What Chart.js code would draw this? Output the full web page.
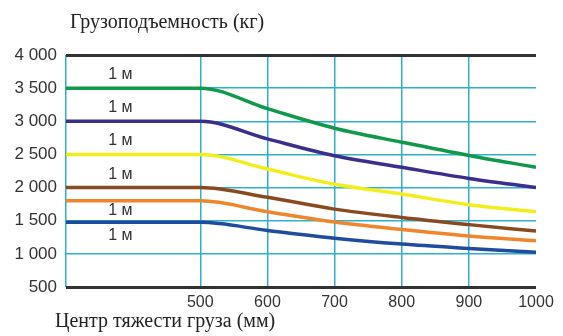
<!DOCTYPE html>
<html>
<head>
<meta charset="utf-8">
<script src="https://cdn.jsdelivr.net/npm/chart.js@4.4.1/dist/chart.umd.min.js"></script>
<style>
    html, body { margin: 0; padding: 0; background: #fff; }
    #wrap { width: 563px; height: 336px; position: relative; }
</style>
</head>
<body>
<div id="wrap"><canvas id="loadChart"></canvas></div>
<script>
// Load centre (mm) and capacity (kg)
const centres = [300, 500, 600, 700, 800, 900, 1000];
const green  = [3500, 3500, 3190, 2895, 2685, 2485, 2306];
const purple = [3000, 3000, 2734, 2480, 2306, 2138, 2000];
const yellow = [2500, 2500, 2280, 2050, 1902, 1742, 1635];
const brown  = [2000, 2000, 1854, 1675, 1548, 1441, 1343];
const orange = [1800, 1800, 1636, 1480, 1368, 1270, 1196];
const blue   = [1475, 1475, 1353, 1235, 1147, 1082, 1024];

const xTicks = [300, 500, 600, 700, 800, 900, 1000];
const yTicks = [500, 1000, 1500, 2000, 2500, 3000, 3500, 4000];

// "1 м" marks: label text and value they sit near
const liftLabels = ['1 м', '1 м', '1 м', '1 м', '1 м', '1 м'];
const liftValues = [3700, 3210, 2710, 2200, 1660, 1280];

const yTitle = 'Грузоподъемность (кг)';
const xTitle = 'Центр тяжести груза (мм)';

function series(values, color) {
    return {
        data: values.map((v, i) => ({ x: centres[i], y: v })),
        borderColor: color,
        borderWidth: 3.5,
        pointRadius: 0,
        fill: false,
        cubicInterpolationMode: 'monotone'
    };
}

// Format "4 000"
function fmt(v) {
    return String(v).replace(/\B(?=(\d{3})+(?!\d))/g, ' ');
}

const textPlugin = {
    id: 'texts',
    afterDraw(chart) {
        const ctx = chart.ctx;
        const xs = chart.scales.x;
        const ys = chart.scales.y;
        ctx.save();
        ctx.fillStyle = '#222';
        ctx.font = '20px "Liberation Serif", serif';
        ctx.textBaseline = 'middle';
        ctx.textAlign = 'left';
        ctx.fillText(yTitle, 70, 23);
        ctx.fillText(xTitle, 55, 322);

        ctx.font = '16px "Liberation Sans", Arial, sans-serif';
        ctx.fillStyle = '#333';
        ctx.textAlign = 'center';
        liftLabels.forEach((t, i) => {
            ctx.fillText(t, xs.getPixelForValue(381), ys.getPixelForValue(liftValues[i]));
        });
        ctx.restore();
    }
};

new Chart(document.getElementById('loadChart'), {
    type: 'line',
    data: {
        datasets: [
            series(green, '#10994a'),
            series(purple, '#3b2e8c'),
            series(yellow, '#f1ee1c'),
            series(brown, '#8a4a20'),
            series(orange, '#f0862c'),
            series(blue, '#1f4c9e')
        ]
    },
    options: {
        responsive: true,
        maintainAspectRatio: false,
        animation: false,
        layout: { padding: { top: 55, right: 27, left: 0, bottom: 0 } },
        plugins: {
            legend: { display: false },
            tooltip: { enabled: false }
        },
        scales: {
            x: {
                type: 'linear',
                min: 300,
                max: 1000,
                afterBuildTicks: (scale) => { scale.ticks = xTicks.map(v => ({ value: v })); },
                afterFit: (scale) => { scale.height = 49; },
                border: { display: false },
                grid: {
                    color: (c) => c.tick && c.tick.value === 1000 ? 'rgba(0,0,0,0)' : '#2fb0cf',
                    lineWidth: 1.5,
                    drawTicks: false
                },
                ticks: {
                    maxRotation: 0,
                    padding: 6,
                    color: '#333',
                    font: { family: '"Liberation Sans", Arial, sans-serif', size: 16 },
                    callback: (v) => v === 300 ? '' : String(v)
                }
            },
            y: {
                min: 500,
                max: 4000,
                afterBuildTicks: (scale) => { scale.ticks = yTicks.map(v => ({ value: v })); },
                afterFit: (scale) => { scale.width = 66; },
                border: { display: false },
                grid: {
                    color: (c) => (c.tick && (c.tick.value === 500 || c.tick.value === 4000)) ? '#333' : '#2fb0cf',
                    lineWidth: (c) => (c.tick && (c.tick.value === 500 || c.tick.value === 4000)) ? 3 : 1.5,
                    drawTicks: false
                },
                ticks: {
                    padding: 9,
                    color: '#333',
                    font: { family: '"Liberation Sans", Arial, sans-serif', size: 17 },
                    callback: (v) => fmt(v)
                }
            }
        }
    },
    plugins: [textPlugin]
});
</script>
</body>
</html>
